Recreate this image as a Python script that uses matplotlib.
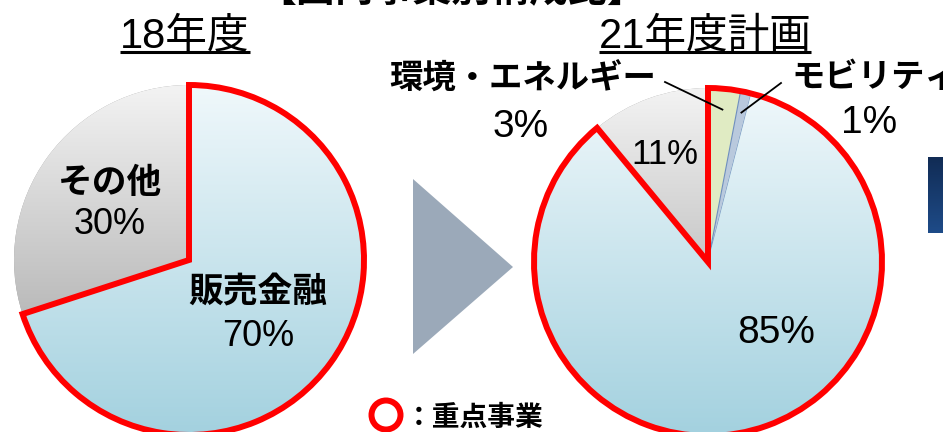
import numpy as np
import matplotlib
matplotlib.use("Agg")
import matplotlib.pyplot as plt
from matplotlib.colors import to_rgb
from matplotlib.patches import Polygon, Circle

# ---- data -------------------------------------------------------------
title_top = "【国内事業別構成比】"
year_left = "18年度"
year_right = "21年度計画"

left_labels = ["販売金融", "その他"]
left_values = [70, 30]
left_focus = [True, False]

right_labels = ["環境・エネルギー", "モビリティ", "販売金融", "その他"]
right_values = [3, 1, 85, 11]
right_focus = [True, True, True, False]

legend_text = "：重点事業"

# ---- canvas (pixel-like coordinates, y measured from the top) ----------
W, H = 943, 432
fig = plt.figure(figsize=(W / 100, H / 100), dpi=100)
ax = fig.add_axes([0, 0, 1, 1])

def Y(y):
    return H - y

JP = ["Noto Sans CJK JP", "DejaVu Sans"]
NUM = ["Liberation Sans", "Noto Sans CJK JP"]

RED = "#ff0000"
RED_LW = 4.3
BLUE_TOP, BLUE_BOT = "#f0f8fb", "#a3d1df"
GRAY_TOP, GRAY_BOT = "#f3f3f3", "#9c9c9c"
GREEN = "#e0ebc3"
MOBILITY = "#b9c9dd"


def gradient_fill(patch, extent, top, bottom, z):
    t = np.linspace(0, 1, 256)[:, None, None]
    c0, c1 = np.array(to_rgb(top)), np.array(to_rgb(bottom))
    img = c0 * (1 - t) + c1 * t
    img = np.repeat(img, 2, axis=1)
    im = ax.imshow(img, extent=extent, origin="upper", aspect="auto",
                   zorder=z, interpolation="bilinear")
    im.set_clip_path(patch)
    return im


def draw_pie(values, labels, focus, center, radius, colors):
    cx, cy = center
    wedges, _ = ax.pie(values, center=(cx, Y(cy)), radius=radius,
                       startangle=90, counterclock=False, colors=colors,
                       wedgeprops=dict(linewidth=0), frame=True)
    ext = (cx - radius, cx + radius, Y(cy) - radius, Y(cy) + radius)
    for w, lab in zip(wedges, labels):
        w.set_zorder(1)
        if lab == "販売金融":
            gradient_fill(w, ext, BLUE_TOP, BLUE_BOT, 1.5)
        elif lab == "その他":
            gradient_fill(w, ext, GRAY_TOP, GRAY_BOT, 1.5)
    # red outline around the focus businesses (contiguous from the start)
    fsum = sum(v for v, f in zip(values, focus) if f)
    rest = sum(values) - fsum
    outline, _ = ax.pie([fsum, rest], center=(cx, Y(cy)), radius=radius,
                        startangle=90, counterclock=False, frame=True,
                        wedgeprops=dict(fill=False, linewidth=RED_LW,
                                        edgecolor=RED, joinstyle="miter"))
    outline[0].set_zorder(5)
    outline[1].set_visible(False)
    return wedges


# left pie
lc, lr = (189, 260), 175
draw_pie(left_values, left_labels, left_focus, lc, lr,
         [BLUE_BOT, GRAY_BOT])

# right pie
rc, rr = (708, 262), 174
rw = draw_pie(right_values, right_labels, right_focus, rc, rr,
              [GREEN, MOBILITY, BLUE_BOT, GRAY_BOT])
rw[1].set_edgecolor("#6f8fbd")
rw[1].set_linewidth(0.8)

# ---- texts --------------------------------------------------------------
ax.text(452, Y(2), title_top, family=JP, weight="bold", fontsize=28,
        ha="center", va="baseline", zorder=10)

underlined = []
for txt, x in [(year_left, 185), (year_right, 705)]:
    t = ax.text(x, Y(47), txt, family=NUM, fontsize=30, ha="center",
                va="baseline", zorder=10)
    underlined.append(t)

# left pie labels
ax.text(110, Y(182), "その他", family=JP, weight="bold", fontsize=25,
        ha="center", va="center", zorder=10)
ax.text(110, Y(225), f"{left_values[1]}%", family=NUM, fontsize=26,
        ha="center", va="center", zorder=10)
ax.text(258, Y(292), "販売金融", family=JP, weight="bold", fontsize=25,
        ha="center", va="center", zorder=10)
ax.text(258, Y(336), f"{left_values[0]}%", family=NUM, fontsize=26,
        ha="center", va="center", zorder=10)

# right pie labels
ax.text(523, Y(79), "環境・エネルギー", family=JP, weight="bold", fontsize=24,
        ha="center", va="center", zorder=10)
ax.text(521, Y(127), f"{right_values[0]}%", family=NUM, fontsize=28,
        ha="center", va="center", zorder=10)
ax.text(791, Y(77), "モビリティ", family=JP, weight="bold", fontsize=24,
        ha="left", va="center", zorder=10)
ax.text(869, Y(123), f"{right_values[1]}%", family=NUM, fontsize=28,
        ha="center", va="center", zorder=10)
ax.text(665, Y(155), f"{right_values[3]}%", family=NUM, fontsize=25,
        ha="center", va="center", zorder=10)
ax.text(776, Y(333), f"{right_values[2]}%", family=NUM, fontsize=28,
        ha="center", va="center", zorder=10)

# leader lines from the small slices to their labels
for w, (lx, ly) in zip(rw[:2], [(665, 82), (781, 83)]):
    mid = np.deg2rad((w.theta1 + w.theta2) / 2)
    px = rc[0] + 0.88 * rr * np.cos(mid)
    py = Y(rc[1]) + 0.88 * rr * np.sin(mid)
    ax.plot([lx, px], [Y(ly), py], color="black", lw=1.3, zorder=9)

# arrow between the two pies
ax.add_patch(Polygon([(413, Y(179)), (413, Y(354)), (513, Y(267))],
                     closed=True, facecolor="#9ba9b9", edgecolor="none",
                     zorder=2))

# legend marker
ax.add_patch(Circle((386, Y(415)), 14.5, fill=False, edgecolor=RED,
                    linewidth=RED_LW, zorder=6))
ax.text(405, Y(418), legend_text, family=JP, weight="bold", fontsize=20,
        ha="left", va="center", zorder=10)

# dark navy panel at the right edge
t = np.linspace(0, 1, 64)[:, None, None]
navy = np.array(to_rgb("#112c55")) * (1 - t) + np.array(to_rgb("#1e4b88")) * t
ax.imshow(np.repeat(navy, 2, axis=1), extent=(928, 946, Y(233), Y(157)),
          origin="upper", aspect="auto", zorder=3)

ax.set_xlim(0, W)
ax.set_ylim(0, H)
ax.set_aspect("auto")
ax.axis("off")

# underline the year headings
fig.canvas.draw()
inv = ax.transData.inverted()
for t in underlined:
    bb = t.get_window_extent()
    (x0, _), (x1, _) = inv.transform([(bb.x0, bb.y0), (bb.x1, bb.y1)])
    ax.plot([x0, x1], [Y(52), Y(52)], color="black", lw=2.2,
            solid_capstyle="butt", zorder=10)

fig.savefig("out.png", dpi=100)
